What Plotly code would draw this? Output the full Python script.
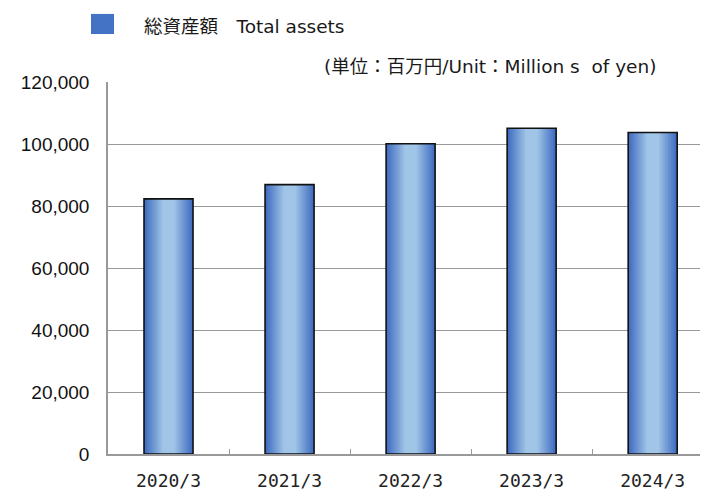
"""Total assets bar chart (単位：百万円)."""

import plotly.graph_objects as go

# --- data ---
categories = ["2020/3", "2021/3", "2022/3", "2023/3", "2024/3"]
total_assets = [82300, 86900, 100100, 105100, 103700]

y_tick_values = [0, 20000, 40000, 60000, 80000, 100000, 120000]
y_tick_labels = ["0", "20,000", "40,000", "60,000", "80,000", "100,000", "120,000"]

legend_label = "総資産額　Total assets"
unit_label = "(単位：百万円/Unit：Million s  of yen)"

# --- styling ---
BAR_WIDTH = 0.405
EDGE_RGB = (64, 108, 192)
CENTER_RGB = (160, 197, 231)
N_STEPS = 16
TEXT_FONT = "DejaVu Sans, Noto Sans CJK JP"
GRID = "#999999"


def _mix(a, b, t):
    return "rgb({},{},{})".format(*[round(a[i] + (b[i] - a[i]) * t) for i in range(3)])


fig = go.Figure()

# horizontal gradient: stack narrower, lighter bars on top of each other
for i in range(N_STEPS):
    frac = 1 - i / N_STEPS
    t = min(1.0, (i / (N_STEPS - 1)) / 0.8)
    fig.add_trace(go.Bar(
        x=categories, y=total_assets,
        width=[BAR_WIDTH * frac] * len(categories),
        marker=dict(color=_mix(EDGE_RGB, CENTER_RGB, t), line=dict(width=0)),
        hoverinfo="skip" if i else None,
        showlegend=False,
    ))

# black outline
fig.add_trace(go.Bar(
    x=categories, y=total_assets,
    width=[BAR_WIDTH] * len(categories),
    marker=dict(color="rgba(0,0,0,0)", line=dict(color="#111111", width=1.6)),
    name=legend_label, showlegend=False,
))

# legend swatch + text, unit note
fig.add_shape(type="rect", xref="paper", yref="paper",
              x0=-0.0283, x1=0.0100, y0=1.129, y1=1.183,
              fillcolor="#4472C4", line=dict(width=0))
fig.add_annotation(text=legend_label, xref="paper", yref="paper",
                   x=0.0567, y=1.150, xanchor="left", yanchor="middle",
                   showarrow=False, font=dict(family=TEXT_FONT, size=18.5, color="#1a1a1a"))
fig.add_annotation(text=unit_label, xref="paper", yref="paper",
                   x=0.3567, y=1.043, xanchor="left", yanchor="middle",
                   showarrow=False, font=dict(family=TEXT_FONT, size=18.5, color="#1a1a1a"))

fig.update_xaxes(
    type="category", range=[-0.5, 4.457],
    showline=True, linecolor=GRID, linewidth=1.5,
    ticks="inside", tickson="boundaries", ticklen=5, tickcolor=GRID,
    showgrid=False,
    tickfont=dict(family="DejaVu Sans Mono", size=18, color="#222222"),
    ticklabelstandoff=10,
)
fig.update_yaxes(
    range=[0, 120000], tickvals=y_tick_values, ticktext=y_tick_labels,
    showline=True, linecolor=GRID, linewidth=1.5,
    showgrid=True, gridcolor=GRID, gridwidth=1,
    zeroline=False, ticks="",
    tickfont=dict(family="Liberation Sans", size=19, color="#111111"),
    ticklabelstandoff=13,
)

# page body keeps its default 8px margin, so the figure is 8px smaller
fig.update_layout(
    width=700, height=483,
    margin=dict(l=100, r=0, t=74, b=37, autoexpand=False),
    barmode="overlay",
    plot_bgcolor="white", paper_bgcolor="white",
    showlegend=False,
)

fig.write_html("out.html")
